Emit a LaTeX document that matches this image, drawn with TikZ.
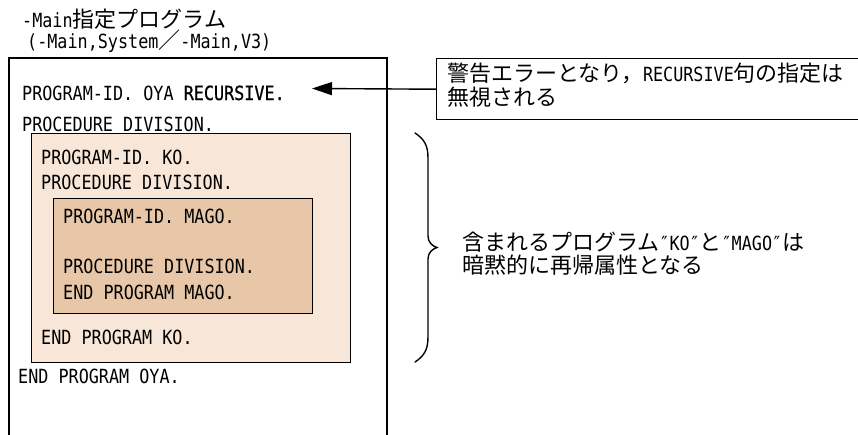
\documentclass[tikz,border=0pt]{standalone}
\usepackage{fontspec}
\setmainfont{Noto Sans CJK JP}
\newfontfamily\jpf{Noto Sans CJK JP}
\newfontfamily\latf[FakeStretch=0.86]{DejaVu Sans Mono}
\newfontfamily\latbf[FakeStretch=0.86,FakeBold=0.9]{DejaVu Sans Mono}
\newfontfamily\primef[FakeStretch=0.86]{DejaVu Sans}
\usetikzlibrary{arrows.meta}
\newcommand{\JP}[1]{{\jpf\fontsize{22}{26}\selectfont #1}}
\newcommand{\LT}[1]{{\latf\fontsize{19.5}{23}\selectfont #1}}
\newcommand{\QQ}{\makebox[10pt][c]{\primef\fontsize{19.5}{23}\selectfont ″}}
\definecolor{kofill}{HTML}{F8E7D8}
\definecolor{magofill}{HTML}{E8C7A8}
\tikzset{
  tx/.style={anchor=base west, inner sep=0pt, font=\latf\fontsize{19.5}{23}\selectfont},
  boxline/.style={draw=black, line width=1.4pt},
}
\begin{document}
\begin{tikzpicture}[x=1pt,y=-1pt]
\useasboundingbox (0,0) rectangle (858,434);
\clip (0,0) rectangle (858,434);
% outer program box (open at the bottom)
\draw[boxline] (9,440) -- (9,58) -- (387,58) -- (387,440);
% nested boxes
\node (ko) [boxline, fill=kofill, anchor=north west, minimum width=319pt, minimum height=229pt, inner sep=0pt] at (31,133) {};
\node (mago) [boxline, fill=magofill, anchor=north west, minimum width=259pt, minimum height=115pt, inner sep=0pt] at (53,198) {};
% titles
\node (t1) [tx] at (22,27) {\LT{-Main}\JP{指定プログラム}};
\node (t2) [tx] at (27,48) {\LT{(-Main,System}\smash{\JP{／}}\LT{-Main,V3)}};
% code lines
\node (oya1) [tx] at (22,100) {PROGRAM-ID. OYA {\latbf RECURSIVE.}};
\node (oya2) [tx] at (22,131) {PROCEDURE DIVISION.};
\node (ko1) [tx] at (41,164) {PROGRAM-ID. KO.};
\node (ko2) [tx] at (41,189) {PROCEDURE DIVISION.};
\node (mg1) [tx] at (63,223) {PROGRAM-ID. MAGO.};
\node (mg2) [tx] at (63,273) {PROCEDURE DIVISION.};
\node (mg3) [tx] at (63,299) {END PROGRAM MAGO.};
\node (ko3) [tx] at (41,344) {END PROGRAM KO.};
\node (oya3) [tx] at (18,383) {END PROGRAM OYA.};
% callout
\node (callout) [boxline, anchor=north west, minimum width=440pt, minimum height=61pt, inner sep=0pt] at (436,58) {};
\node (c1) [tx] at (447,81) {\JP{警告エラーとなり，}\LT{RECURSIVE}\JP{句の指定は}};
\node (c2) [tx] at (447,105) {\JP{無視される}};
\coordinate (tip) at (312,88.5);
\draw[line width=1.4pt, -{Triangle[length=20pt,width=13pt]}] (callout.west) -- (tip);
% brace
\draw[line width=1.4pt, line cap=round]
  (415,133) .. controls (424,139) and (428,145) .. (428,158)
  -- (428,236) .. controls (428,242) and (432,246) .. (437,247.5)
  .. controls (432,249) and (428,253) .. (428,259)
  -- (428,337) .. controls (428,350) and (424,356) .. (415,362);
% brace text
\node (b1) [tx] at (462,250) {\JP{含まれるプログラム}\QQ\LT{KO}\QQ\JP{と}\QQ\LT{MAGO}\QQ\JP{は}};
\node (b2) [tx] at (462,273) {\JP{暗黙的に再帰属性となる}};
\end{tikzpicture}
\end{document}
